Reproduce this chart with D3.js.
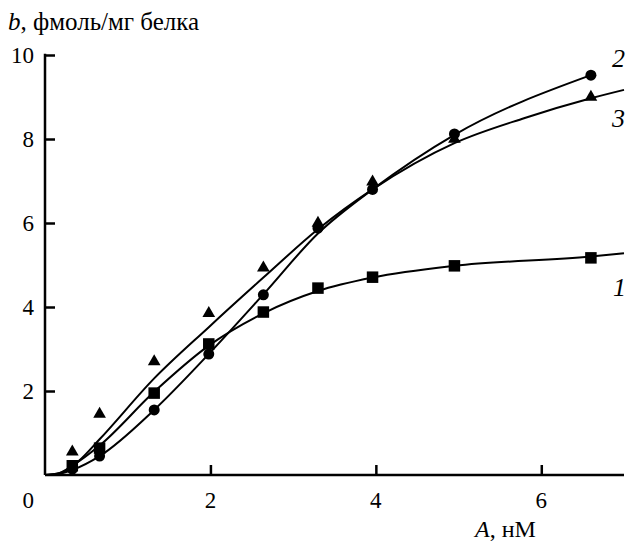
<!DOCTYPE html>
<html>
<head>
<meta charset="utf-8">
<script src="https://cdn.jsdelivr.net/npm/d3@7"></script>
<style>
  body { margin: 0; background: #fff; }
  svg text { fill: #000; font-family: "Liberation Serif", "Times New Roman", serif !important; }
</style>
</head>
<body>
<svg id="chart" width="626" height="545"></svg>
<script>
// measured points (A, nM -> b, fmol/mg)
const xPoints = [0.33, 0.66, 1.32, 1.98, 2.64, 3.3, 3.96, 4.95, 6.6];
const squares = [0.22, 0.64, 1.95, 3.12, 3.88, 4.45, 4.71, 4.98, 5.17];
const circles = [0.14, 0.45, 1.55, 2.88, 4.29, 5.88, 6.8, 8.12, 9.52];
const triangles = [0.55, 1.45, 2.7, 3.85, 4.93, 6.0, 6.98, 8.0, 9.0];

// fitted lines
const fit1 = [[0, 0], [0.15, 0.03], [0.33, 0.22], [0.66, 0.7], [1.32, 1.98],
  [1.98, 3.08], [2.64, 3.85], [3.3, 4.38], [3.96, 4.7], [4.95, 4.98], [6.6, 5.2], [7.0, 5.28]];
const fit2 = [[0, 0], [0.15, 0.02], [0.33, 0.12], [0.66, 0.45], [1.32, 1.55],
  [1.98, 2.88], [2.64, 4.3], [3.3, 5.75], [3.96, 6.8], [4.95, 8.1], [6.6, 9.52]];
const fit3 = [[0, 0], [0.2, 0.06], [0.4, 0.32], [0.66, 0.85], [1.32, 2.3],
  [1.98, 3.52], [2.64, 4.7], [3.3, 5.85], [3.96, 6.8], [4.95, 7.9], [5.8, 8.5], [6.6, 8.97], [7.0, 9.17]];

const xTicks = [2, 4, 6];
const yTicks = [2, 4, 6, 8, 10];

const svg = d3.select('#chart');
const x = d3.scaleLinear().domain([0, 7]).range([45, 624]);
const y = d3.scaleLinear().domain([0, 10]).range([475, 55]);

const txt = (sel, size, italic) => sel
    .style('font-size', size + 'px', 'important')
    .style('font-style', italic ? 'italic' : 'normal');

// axes
const xAxis = svg.append('g')
    .attr('transform', `translate(0,${y(0)})`)
    .call(d3.axisTop(x).tickValues(xTicks).tickSize(10).tickFormat(''));
const yAxis = svg.append('g')
    .attr('transform', `translate(${x(0)},0)`)
    .call(d3.axisRight(y).tickValues(yTicks).tickSize(10).tickFormat(''));
[xAxis, yAxis].forEach(a => {
    a.select('.domain').remove();
    a.selectAll('line').attr('stroke', '#000').attr('stroke-width', 2.5);
});
svg.append('line')
    .attr('x1', x(0)).attr('x2', x(7)).attr('y1', y(0)).attr('y2', y(0))
    .attr('stroke', '#000').attr('stroke-width', 2.5);
svg.append('line')
    .attr('x1', x(0)).attr('x2', x(0)).attr('y1', y(0)).attr('y2', y(10) - 1.25)
    .attr('stroke', '#000').attr('stroke-width', 2.5);

// tick labels
svg.selectAll('.xl').data(xTicks).enter().append('text')
    .attr('x', d => x(d)).attr('y', 508)
    .attr('text-anchor', 'middle')
    .call(txt, 23)
    .text(d => d);
svg.append('text').attr('x', 34).attr('y', 508)
    .attr('text-anchor', 'end').call(txt, 23).text('0');
svg.selectAll('.yl').data(yTicks).enter().append('text')
    .attr('x', 34).attr('y', d => y(d) + 8)
    .attr('text-anchor', 'end').call(txt, 23)
    .text(d => d);

// axis titles
const yt = svg.append('text').attr('x', 8).attr('y', 30).call(txt, 25);
yt.append('tspan').style('font-style', 'italic').text('b');
yt.append('tspan').text(', фмоль/мг белка');
const xt = svg.append('text').attr('x', 475).attr('y', 537).call(txt, 24);
xt.append('tspan').style('font-style', 'italic').text('A');
xt.append('tspan').text(', нМ');

// fitted curves
const line = d3.line().x(d => x(d[0])).y(d => y(d[1])).curve(d3.curveMonotoneX);
[fit1, fit2, fit3].forEach(f => {
    svg.append('path').attr('d', line(f))
        .attr('fill', 'none').attr('stroke', '#000').attr('stroke-width', 2);
});

// markers
svg.selectAll('.sq').data(xPoints).enter().append('rect')
    .attr('x', (d) => x(d) - 5.75).attr('y', (d, i) => y(squares[i]) - 5.75)
    .attr('width', 11.5).attr('height', 11.5).attr('fill', '#000');
svg.selectAll('.ci').data(xPoints).enter().append('circle')
    .attr('cx', d => x(d)).attr('cy', (d, i) => y(circles[i]))
    .attr('r', 5.5).attr('fill', '#000');
const tri = d3.symbol().type(d3.symbolTriangle).size(70);
svg.selectAll('.tr').data(xPoints).enter().append('path')
    .attr('d', tri)
    .attr('transform', (d, i) => `translate(${x(d)},${y(triangles[i])})`)
    .attr('fill', '#000');

// curve labels
const curveLabels = [['2', 612, 67], ['3', 612, 127], ['1', 613, 296]];
svg.selectAll('.cl').data(curveLabels).enter().append('text')
    .attr('x', d => d[1]).attr('y', d => d[2])
    .call(txt, 26, true)
    .text(d => d[0]);
</script>
</body>
</html>
